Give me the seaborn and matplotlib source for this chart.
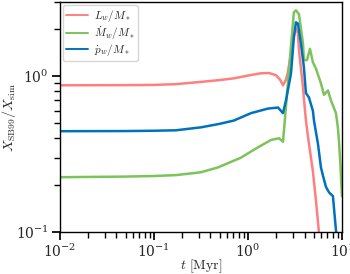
import matplotlib
matplotlib.use("Agg")
import matplotlib.pyplot as plt
import seaborn as sns
import pandas as pd

sns.set_theme(style="ticks")
plt.rcParams["font.family"] = ["DejaVu Serif"]
plt.rcParams["mathtext.fontset"] = "cm"

# --- data ---
t_L = [0.01, 0.05, 0.1, 0.171, 0.316, 0.5, 0.71, 1.0, 1.375, 1.67, 1.99, 2.2, 2.36, 2.54,
       2.66, 2.87, 3.08, 3.24, 3.40, 3.49, 3.85, 3.94, 4.14, 4.35, 4.91, 5.29, 5.69, 6.0]
L_w = [0.875, 0.877, 0.88, 0.89, 0.92, 0.945, 0.97, 1.01, 1.045, 1.05, 1.015, 0.95, 0.875,
       0.95, 1.06, 1.4, 1.8, 2.03, 1.9, 1.47, 0.85, 0.72, 0.52, 0.41, 0.245, 0.16, 0.1, 0.07]

t_M = [0.01, 0.05, 0.1, 0.171, 0.316, 0.48, 0.84, 1.28, 1.76, 2.14, 2.36, 2.42, 2.73, 3.08,
       3.24, 3.40, 3.49, 3.85, 3.94, 4.24, 4.57, 4.91, 5.29, 5.98, 6.44, 7.10, 7.64, 8.63,
       9.05, 9.28, 9.6, 10.0]
M_w = [0.225, 0.227, 0.229, 0.232, 0.242, 0.26, 0.30, 0.35, 0.39, 0.40, 0.38, 0.45, 1.09,
       2.57, 2.65, 2.55, 2.5, 1.63, 1.27, 1.27, 1.5, 1.23, 1.12, 0.9, 0.76, 0.81, 0.7, 0.58,
       0.47, 0.39, 0.28, 0.17]

t_p = [0.01, 0.05, 0.1, 0.171, 0.316, 0.5, 0.71, 1.08, 1.63, 2.09, 2.36, 2.54, 2.87, 3.08,
       3.24, 3.40, 3.66, 3.94, 4.14, 4.46, 4.91, 5.04, 5.55, 5.98, 6.28, 6.76, 7.28, 8.02,
       8.63, 9.0]
p_w = [0.444, 0.445, 0.447, 0.45, 0.47, 0.495, 0.52, 0.58, 0.62, 0.63, 0.58, 0.7, 1.04, 1.78,
       2.22, 2.18, 1.63, 1.14, 0.78, 0.73, 0.6, 0.52, 0.37, 0.26, 0.23, 0.195, 0.18, 0.17,
       0.103, 0.08]

labels = [r"$L_w/M_*$", r"$\dot{M}_w/M_*$", r"$\dot{p}_w/M_*$"]
colors = ["#ff7f7f", "#7dc35c", "#0072bd"]

df = pd.concat([
    pd.DataFrame({"t": t_L, "v": L_w, "s": labels[0]}),
    pd.DataFrame({"t": t_M, "v": M_w, "s": labels[1]}),
    pd.DataFrame({"t": t_p, "v": p_w, "s": labels[2]}),
], ignore_index=True)

fig = plt.figure(figsize=(3.5, 2.74), dpi=100)
ax = fig.add_axes([0.171, 0.153, 0.806, 0.840])
sns.lineplot(data=df, x="t", y="v", hue="s", palette=dict(zip(labels, colors)),
             linewidth=1.8, ax=ax, sort=False, estimator=None)
ax.set_xscale("log")
ax.set_yscale("log")
ax.set_xlim(0.01, 10)
ax.set_ylim(0.1, 3.0)
ax.set_xlabel(r"$t\ [\mathrm{Myr}]$", fontsize=10, va="center")
ax.xaxis.set_label_coords(0.5, -0.148)
ax.set_ylabel(r"$X_{\rm SB99}/X_{\rm sim}$", fontsize=10, va="center")
ax.yaxis.set_label_coords(-0.18, 0.5)
ax.tick_params(labelsize=10, pad=2)
for sp in ax.spines.values():
    sp.set_color("black")
    sp.set_linewidth(1.0)
ax.tick_params(which="both", color="black")
leg = ax.legend(loc="upper left", fontsize=8, frameon=True, handlelength=2.0,
                borderpad=0.3, labelspacing=0.02, handletextpad=0.5,
                borderaxespad=0.25)
leg.get_frame().set_edgecolor("#cccccc")
for ln in leg.get_lines():
    ln.set_linewidth(1.4)
fig.savefig("out.png", dpi=100)
